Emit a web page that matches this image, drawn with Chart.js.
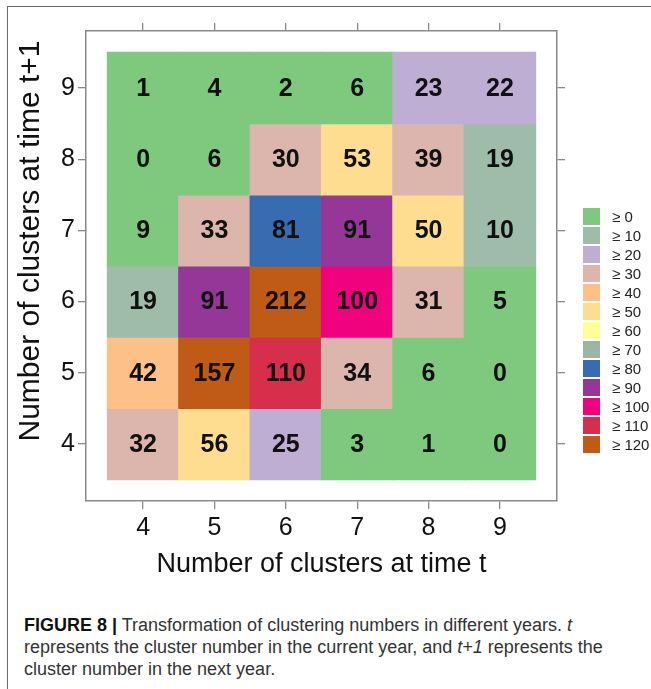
<!DOCTYPE html>
<html>
<head>
<meta charset="utf-8">
<script src="https://cdn.jsdelivr.net/npm/chart.js@4.4.0/dist/chart.umd.min.js"></script>
<style>
    body {
        margin: 0;
        background: #fff;
        width: 651px;
        height: 689px;
        position: relative;
        overflow: hidden;
        font-family: "Liberation Sans", Arial, sans-serif;
    }
    .frame {
        position: absolute;
        left: 7px;
        top: 6px;
        width: 660px;
        height: 700px;
        border-top: 1.5px solid #6b6b6b;
        border-left: 1.5px solid #6b6b6b;
    }
    #heat {
        position: absolute;
        left: 0;
        top: 0;
    }
    #legend {
        position: absolute;
        left: 583px;
        top: 208px;
    }
    .item {
        height: 19px;
        display: flex;
        align-items: flex-start;
    }
    .sw {
        width: 17px;
        height: 17px;
    }
    .lab {
        margin-left: 12px;
        font-size: 15px;
        line-height: 17px;
        color: #222;
        white-space: nowrap;
    }
    #caption {
        position: absolute;
        left: 24px;
        top: 614px;
        font-family: "Liberation Sans Narrow", "Liberation Sans", Arial, sans-serif;
        font-size: 18px;
        line-height: 22px;
        color: #333;
        white-space: nowrap;
    }
    #caption b {
        color: #111;
    }
</style>
</head>
<body>
<div class="frame"></div>
<canvas id="heat" width="651" height="600"></canvas>
<div id="legend"></div>
<div id="caption">
    <b>FIGURE 8 |</b> Transformation of clustering numbers in different years. <i>t</i><br>
    represents the cluster number in the current year, and <i>t+1</i> represents the<br>
    cluster number in the next year.
</div>

<script>
// ===== DATA =====
const xTicks = [4, 5, 6, 7, 8, 9];   // clusters at time t
const yTicks = [4, 5, 6, 7, 8, 9];   // clusters at time t+1

// counts for each row of t+1, columns follow xTicks
const rowT1_4 = [32, 56, 25, 3, 1, 0];
const rowT1_5 = [42, 157, 110, 34, 6, 0];
const rowT1_6 = [19, 91, 212, 100, 31, 5];
const rowT1_7 = [9, 33, 81, 91, 50, 10];
const rowT1_8 = [0, 6, 30, 53, 39, 19];
const rowT1_9 = [1, 4, 2, 6, 23, 22];

const binStarts = [0, 10, 20, 30, 40, 50, 60, 70, 80, 90, 100, 110, 120];
const binLabels = ["≥ 0", "≥ 10", "≥ 20", "≥ 30", "≥ 40", "≥ 50", "≥ 60",
                   "≥ 70", "≥ 80", "≥ 90", "≥ 100", "≥ 110", "≥ 120"];
const binColors = ["#7FC97F", "#9FBCAA", "#BEAED4", "#DCB6AD", "#FDC086", "#FEDD90", "#FFFF99",
                   "#9CB6A5", "#386CB0", "#943798", "#F0027F", "#D72F4B", "#BF5B17"];

const xTitle = "Number of clusters at time t";
const yTitle = "Number of clusters at time t+1";

const rows = [rowT1_4, rowT1_5, rowT1_6, rowT1_7, rowT1_8, rowT1_9];

const axisMin = 3.2;
const axisMax = 9.8;

// ===== HELPERS =====
function binColor(v) {
    let k = 0;
    binStarts.forEach((s, i) => {
        if (v >= s) k = i;
    });
    return binColors[k];
}

const cells = [];
rows.forEach((row, r) => {
    row.forEach((v, c) => {
        cells.push({ x: xTicks[c], y: [yTicks[r] - 0.5, yTicks[r] + 0.5], v: v });
    });
});

// ===== LEGEND =====
const legend = document.getElementById("legend");
binLabels.forEach((label, i) => {
    const item = document.createElement("div");
    item.className = "item";
    item.innerHTML = '<div class="sw" style="background:' + binColors[i] + '"></div>' +
                     '<div class="lab">' + label + '</div>';
    legend.appendChild(item);
});

// ===== CHART =====
const axisColor = "#8a8a8a";
const fontFamily = '"Liberation Sans", Arial, sans-serif';

function setTicks(values) {
    return scale => {
        scale.ticks = values.map(v => ({ value: v }));
    };
}

function makeAxis(position, values, size, labelled, title) {
    const horizontal = position === "top" || position === "bottom";
    return {
        type: "linear",
        position: position,
        min: axisMin,
        max: axisMax,
        offset: false,
        afterBuildTicks: setTicks(values),
        afterFit: scale => {
            if (horizontal) scale.height = size;
            else scale.width = size;
        },
        grid: {
            offset: false,
            drawOnChartArea: false,
            drawTicks: true,
            tickLength: 8,
            color: axisColor,
            lineWidth: 1.3
        },
        border: {
            display: true,
            color: axisColor,
            width: 1.5
        },
        ticks: {
            display: labelled,
            color: "#111",
            font: { family: fontFamily, size: 25 },
            padding: horizontal ? 4 : 3,
            maxRotation: 0,
            autoSkip: false
        },
        title: title ? {
            display: true,
            text: title,
            color: "#111",
            font: { family: fontFamily, size: 27 },
            padding: { top: 0, bottom: 19 }
        } : { display: false }
    };
}

// bold counts inside each cell
const cellText = {
    id: "cellText",
    afterDatasetsDraw(chart) {
        const ctx = chart.ctx;
        const meta = chart.getDatasetMeta(0);
        ctx.save();
        ctx.font = "bold 25px " + fontFamily;
        ctx.fillStyle = "#111";
        ctx.textAlign = "center";
        ctx.textBaseline = "middle";
        meta.data.forEach((bar, i) => {
            const p = bar.getCenterPoint();
            ctx.fillText(String(cells[i].v), p.x, p.y + 1);
        });
        ctx.restore();
    }
};

// y title sits a little above the middle of the axis in the original
const yTitleText = {
    id: "yTitleText",
    afterDraw(chart) {
        const ctx = chart.ctx;
        const area = chart.chartArea;
        ctx.save();
        ctx.translate(31, (area.top + area.bottom) / 2 - 25);
        ctx.rotate(-Math.PI / 2);
        ctx.font = "30px " + fontFamily;
        ctx.fillStyle = "#111";
        ctx.textAlign = "center";
        ctx.textBaseline = "middle";
        ctx.fillText(yTitle, 0, 0);
        ctx.restore();
    }
};

new Chart(document.getElementById("heat").getContext("2d"), {
    type: "bar",
    data: {
        datasets: [{
            data: cells,
            backgroundColor: c => binColor(c.raw.v),
            borderWidth: 0,
            categoryPercentage: 1,
            barPercentage: 1,
            inflateAmount: 0.6
        }]
    },
    options: {
        responsive: false,
        animation: false,
        events: [],
        layout: {
            padding: { left: 0, top: 0, right: 78, bottom: 0 }
        },
        plugins: {
            legend: { display: false },
            tooltip: { enabled: false }
        },
        scales: {
            x: makeAxis("bottom", xTicks, 99, true, xTitle),
            x2: makeAxis("top", xTicks, 31, false, null),
            y: makeAxis("left", yTicks, 86, true, null),
            y2: makeAxis("right", yTicks, 16, false, null)
        }
    },
    plugins: [cellText, yTitleText]
});
</script>
</body>
</html>
